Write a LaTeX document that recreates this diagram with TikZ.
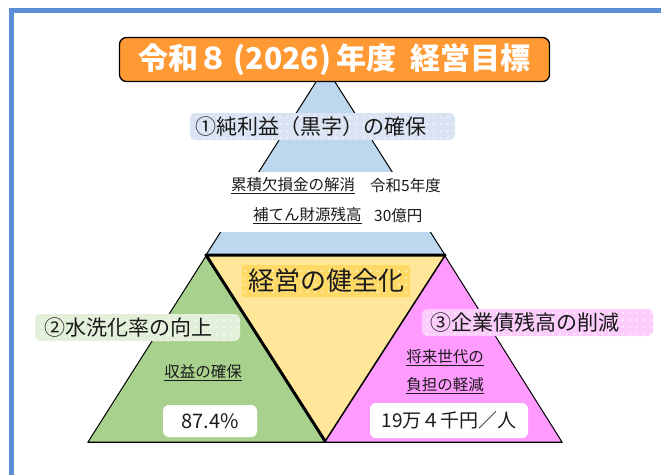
\documentclass[tikz,border=0pt]{standalone}
\usepackage{fontspec}
\newfontfamily\jp{Noto Sans CJK JP}
\usetikzlibrary{patterns.meta}
\definecolor{frameblue}{HTML}{5B8ED6}
\definecolor{ttlorange}{HTML}{FF9933}
\definecolor{triblue}{HTML}{BDD7EE}
\definecolor{triyellow}{HTML}{FFE699}
\definecolor{trigreen}{HTML}{A9D18E}
\definecolor{tripink}{HTML}{FF9BFF}
\definecolor{lblblue}{HTML}{DAE3F3}
\definecolor{lblgold}{HTML}{FFD966}
\definecolor{lblgreen}{HTML}{E2F0D9}
\definecolor{lblpink}{HTML}{FCCCFC}
\definecolor{txt}{HTML}{1A1A1A}
\newcommand\fsz[1]{\fontsize{#1}{#1}\selectfont}
\tikzset{
  tri/.style={draw=black, line width=1pt, line join=miter},
  lblbox/.style={rounded corners=5pt, inner sep=0pt, draw=none,
    postaction={pattern={Dots[distance=7pt,radius=0.9pt]}, pattern color=white}},
  lbltext/.style={anchor=west, inner sep=0pt, text=txt, font=\jp\fsz{21}},
  smalltext/.style={inner sep=0pt, text=txt, font=\jp\fsz{15.5}},
  valbox/.style={fill=white, rounded corners=6pt, draw=none, inner sep=0pt, text=txt},
}
\begin{document}
\begin{tikzpicture}[x=1pt,y=-1pt]
\useasboundingbox (0,0) rectangle (661,474);
% frame
\coordinate (fTL) at (11.5,10.5);
\coordinate (fBR) at (720,520);
\draw[frameblue, line width=5pt] (fTL) rectangle (fBR);

% blue top triangle
\coordinate (bA) at (325.5,67);
\coordinate (bL) at (206,255);
\coordinate (bR) at (445,255);
\draw[tri, fill=triblue] (bA) -- (bL) -- (bR) -- cycle;
% white band
\node[fill=white, minimum width=240pt, minimum height=60pt, inner sep=0pt] (band) at (335,202) {};
\node[smalltext, anchor=west] (t1a) at (231,186) {\underline{累積欠損金の解消}};
\node[smalltext, anchor=west] (t1b) at (370,186) {令和5年度};
\node[smalltext, anchor=west] (t2a) at (253,216) {\underline{補てん財源残高}};
\node[smalltext, anchor=west] (t2b) at (374,216) {30億円};

% green triangle
\coordinate (gA) at (206,256);
\coordinate (gL) at (88,442);
\coordinate (gR) at (325,442);
\draw[tri, fill=trigreen] (gA) -- (gL) -- (gR) -- cycle;
% pink triangle
\coordinate (pA) at (445,256);
\coordinate (pL) at (325,442);
\coordinate (pR) at (562,442);
\draw[tri, fill=tripink] (pA) -- (pL) -- (pR) -- cycle;
% yellow inverted triangle
\coordinate (yL) at (206,255);
\coordinate (yR) at (445,255);
\coordinate (yB) at (325,441);
\draw[tri, fill=triyellow] (yL) -- (yR) -- (yB) -- cycle;
\draw[line width=3pt, line cap=round, line join=round] (yR) -- (yL) -- (yB);
\draw[line width=1pt] (gL) -- (pR);

% title
\node[fill=ttlorange, draw=black, line width=1.3pt, rounded corners=7pt,
      minimum width=430pt, minimum height=44pt, inner sep=0pt,
      text=white, font=\jp\bfseries\fsz{30}] (title) at (334.5,59.5)
      {令和８\,(2026)\,年度\hspace{14pt}経営目標};

% label 1
\node[lblbox, fill=lblblue, minimum width=265pt, minimum height=27pt] (l1box) at (322.5,126.5) {};
\node[lbltext] (l1) at (l1box.west) [xshift=5pt] {①純利益（黒字）の確保};

% label center
\node[lblbox, fill=lblgold, rounded corners=2pt, minimum width=168pt, minimum height=32pt] (l0box) at (326,281) {};
\node[inner sep=0pt, text=txt, font=\jp\fsz{26}] (l0) at (l0box.center) {経営の健全化};

% label 2
\node[lblbox, fill=lblgreen, minimum width=205pt, minimum height=27pt] (l2box) at (137.5,327.5) {};
\node[lbltext] (l2) at (l2box.west) [xshift=9pt] {②水洗化率の向上};

% label 3
\node[lblbox, fill=lblpink, minimum width=231pt, minimum height=27pt] (l3box) at (537.5,322.5) {};
\node[lbltext] (l3) at (l3box.west) [xshift=8pt] {③企業債残高の削減};

% green contents
\node[smalltext] (g1) at (203,373) {\underline{収益の確保}};
\node[valbox, minimum width=94pt, minimum height=32pt, font=\jp\fsz{20}] (gv) at (210,421) {87.4\%};

% pink contents
\node[smalltext] (p1) at (445,358) {\underline{将来世代の}};
\node[smalltext] (p2) at (445,386) {\underline{負担の軽減}};
\node[valbox, minimum width=158pt, minimum height=35pt, font=\jp\fsz{19}] (pv) at (449,420.5) {19万４千円／人};
\end{tikzpicture}
\end{document}
